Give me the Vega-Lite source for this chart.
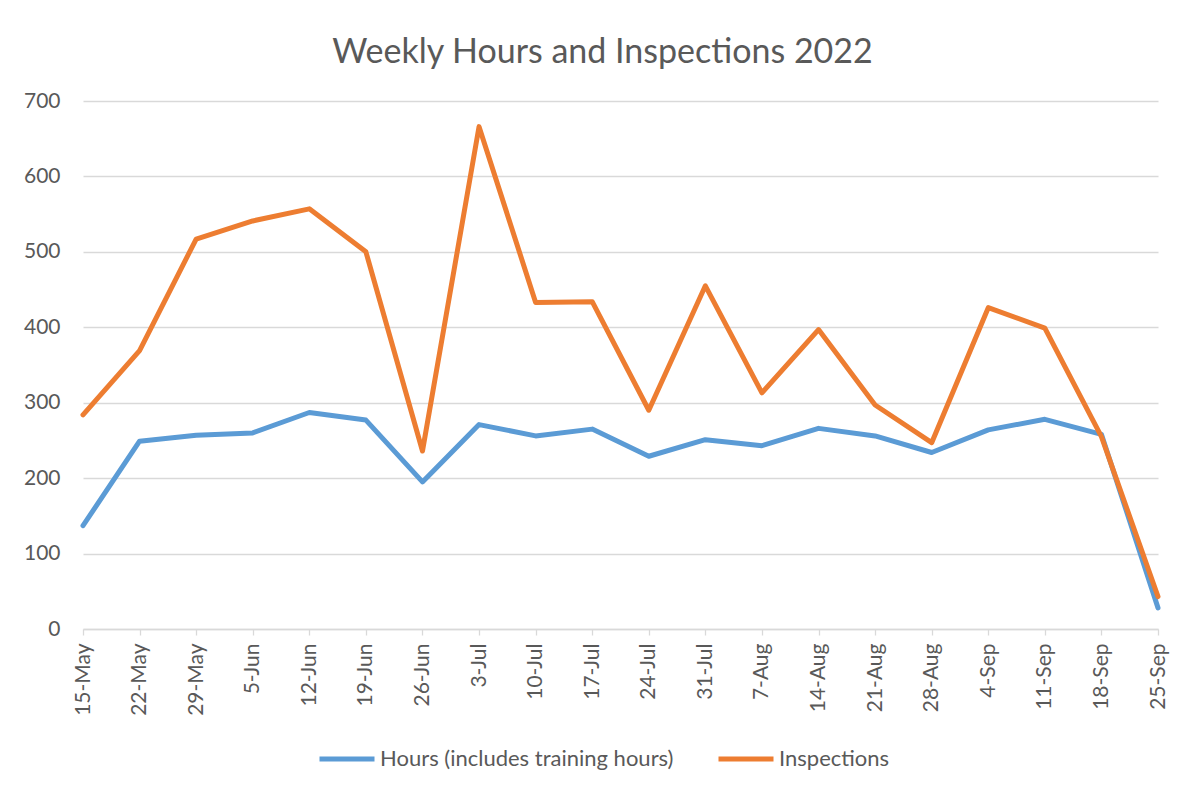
{
  "$schema": "https://vega.github.io/schema/vega-lite/v6.json",
  "width": 1075,
  "height": 528,
  "autosize": {"type": "none"},
  "padding": {"left": 83, "top": 101, "right": 29, "bottom": 165},
  "background": "white",
  "title": {
    "text": "Weekly Hours and Inspections 2022",
    "font": "Lato",
    "fontSize": 34,
    "fontWeight": "normal",
    "color": "#595959",
    "anchor": "middle",
    "baseline": "alphabetic",
    "offset": 41,
    "dx": -18,
    "dy": 48
  },
  "datasets": {
    "weekly": [
      {"week": "15-May", "series": "Hours (includes training hours)", "value": 137},
      {"week": "22-May", "series": "Hours (includes training hours)", "value": 249},
      {"week": "29-May", "series": "Hours (includes training hours)", "value": 257},
      {"week": "5-Jun", "series": "Hours (includes training hours)", "value": 260},
      {"week": "12-Jun", "series": "Hours (includes training hours)", "value": 287},
      {"week": "19-Jun", "series": "Hours (includes training hours)", "value": 277},
      {"week": "26-Jun", "series": "Hours (includes training hours)", "value": 195},
      {"week": "3-Jul", "series": "Hours (includes training hours)", "value": 271},
      {"week": "10-Jul", "series": "Hours (includes training hours)", "value": 256},
      {"week": "17-Jul", "series": "Hours (includes training hours)", "value": 265},
      {"week": "24-Jul", "series": "Hours (includes training hours)", "value": 229},
      {"week": "31-Jul", "series": "Hours (includes training hours)", "value": 251},
      {"week": "7-Aug", "series": "Hours (includes training hours)", "value": 243},
      {"week": "14-Aug", "series": "Hours (includes training hours)", "value": 266},
      {"week": "21-Aug", "series": "Hours (includes training hours)", "value": 256},
      {"week": "28-Aug", "series": "Hours (includes training hours)", "value": 234},
      {"week": "4-Sep", "series": "Hours (includes training hours)", "value": 264},
      {"week": "11-Sep", "series": "Hours (includes training hours)", "value": 278},
      {"week": "18-Sep", "series": "Hours (includes training hours)", "value": 258},
      {"week": "25-Sep", "series": "Hours (includes training hours)", "value": 28},
      {"week": "15-May", "series": "Inspections", "value": 284},
      {"week": "22-May", "series": "Inspections", "value": 369},
      {"week": "29-May", "series": "Inspections", "value": 517},
      {"week": "5-Jun", "series": "Inspections", "value": 541},
      {"week": "12-Jun", "series": "Inspections", "value": 557},
      {"week": "19-Jun", "series": "Inspections", "value": 500},
      {"week": "26-Jun", "series": "Inspections", "value": 236},
      {"week": "3-Jul", "series": "Inspections", "value": 666},
      {"week": "10-Jul", "series": "Inspections", "value": 433},
      {"week": "17-Jul", "series": "Inspections", "value": 434},
      {"week": "24-Jul", "series": "Inspections", "value": 290},
      {"week": "31-Jul", "series": "Inspections", "value": 455},
      {"week": "7-Aug", "series": "Inspections", "value": 313},
      {"week": "14-Aug", "series": "Inspections", "value": 397},
      {"week": "21-Aug", "series": "Inspections", "value": 297},
      {"week": "28-Aug", "series": "Inspections", "value": 247},
      {"week": "4-Sep", "series": "Inspections", "value": 426},
      {"week": "11-Sep", "series": "Inspections", "value": 399},
      {"week": "18-Sep", "series": "Inspections", "value": 255},
      {"week": "25-Sep", "series": "Inspections", "value": 43}
    ]
  },
  "data": {"name": "weekly"},
  "mark": {"type": "line", "strokeWidth": 5, "strokeCap": "round", "strokeJoin": "round"},
  "encoding": {
    "x": {
      "field": "week",
      "type": "ordinal",
      "sort": null,
      "scale": {"type": "point", "padding": 0},
      "axis": {
        "title": null,
        "labelAngle": -90,
        "labelFont": "Lato",
        "labelFontSize": 21,
        "labelColor": "#595959",
        "labelPadding": 8,
        "domainColor": "#d9d9d9",
        "domainWidth": 1.3,
        "tickColor": "#d9d9d9",
        "tickWidth": 1.3,
        "tickSize": 6,
        "grid": false
      }
    },
    "y": {
      "field": "value",
      "type": "quantitative",
      "scale": {"domain": [0, 700], "nice": false},
      "axis": {
        "title": null,
        "values": [0, 100, 200, 300, 400, 500, 600, 700],
        "labelFont": "Lato",
        "labelFontSize": 21,
        "labelColor": "#595959",
        "labelPadding": 23,
        "domain": false,
        "ticks": false,
        "grid": true,
        "gridColor": "#d9d9d9",
        "gridWidth": 1.3
      }
    },
    "color": {
      "field": "series",
      "type": "nominal",
      "sort": null,
      "scale": {
        "domain": ["Hours (includes training hours)", "Inspections"],
        "range": ["#5B9BD5", "#ED7D31"]
      },
      "legend": {
        "title": null,
        "orient": "none",
        "direction": "horizontal",
        "legendX": 234,
        "legendY": 628,
        "symbolType": "stroke",
        "symbolSize": 3025,
        "symbolStrokeWidth": 5,
        "labelFont": "Lato",
        "labelFontSize": 22,
        "labelColor": "#595959",
        "labelOffset": 3,
        "columnPadding": 34,
        "labelLimit": 500
      }
    }
  },
  "config": {"view": {"stroke": null}}
}
